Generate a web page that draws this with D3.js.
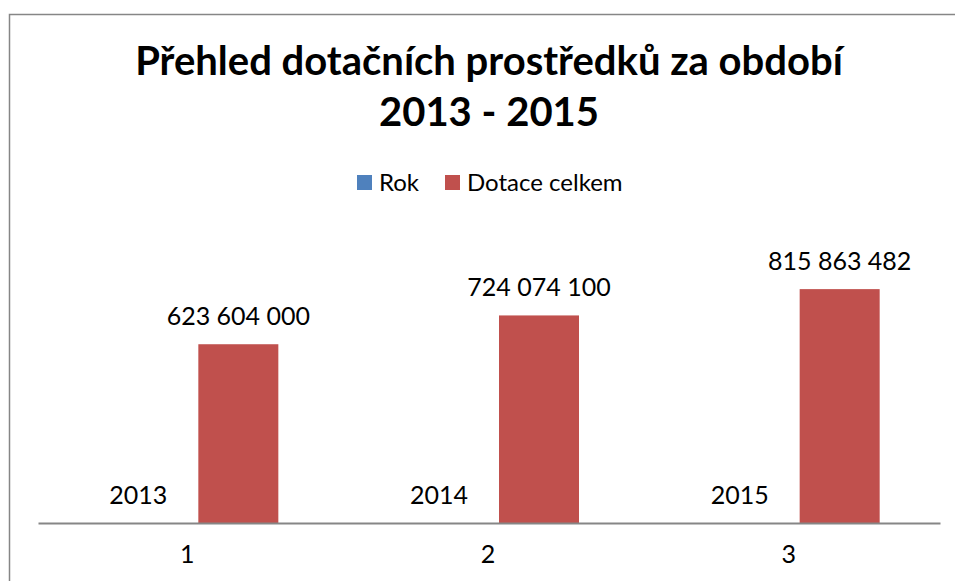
<!DOCTYPE html>
<html>
<head>
<meta charset="utf-8">
<script src="https://cdn.jsdelivr.net/npm/d3@7"></script>
<style>
  body { margin: 0; background: #fff; }
  svg text { font-family: Lato, "Open Sans", sans-serif; fill: #000; }
</style>
</head>
<body>
<div id="chart"></div>
<script>
// data
var categories = ["1", "2", "3"];
var seriesNames = ["Rok", "Dotace celkem"];
var rok = [2013, 2014, 2015];
var dotace = [623604000, 724074100, 815863482];
var colors = ["#4F81BD", "#C0504D"];

var width = 955, height = 581;

var svg = d3.select("#chart")
    .append("svg")
        .attr("width", width)
        .attr("height", height);

// chart border (runs off the right and bottom edges)
svg.append("rect")
    .attr("x", 9.5).attr("y", 14.5)
    .attr("width", 980).attr("height", 600)
    .attr("fill", "none")
    .attr("stroke", "#868686")
    .attr("stroke-width", 1.5);

// title
var title = svg.append("text")
    .attr("text-anchor", "middle")
    .style("font-weight", "bold")
    .style("font-size", "40px");
title.append("tspan").attr("x", 489).attr("y", 75).text("Přehled dotačních prostředků za období");
title.append("tspan").attr("x", 489).attr("y", 126).text("2013 - 2015");

// scales
var x = d3.scaleBand()
    .domain(categories)
    .range([38, 940]);

var y = d3.scaleLinear()
    .domain([0, 900000000])
    .range([523, 265]);

var spaced = d3.formatLocale({decimal: ",", thousands: " ", grouping: [3], currency: ["", ""]}).format(",d");
var formats = [d3.format("d"), spaced];

var barW = 80;
var offsets = [-50, 50];
var seriesData = [rok, dotace];

seriesData.forEach(function(values, s) {
    var g = svg.append("g");
    g.selectAll("rect")
        .data(values)
        .enter()
        .append("rect")
            .attr("x", function(d, i) { return x(categories[i]) + x.bandwidth() / 2 + offsets[s] - barW / 2; })
            .attr("y", function(d) { return y(d); })
            .attr("width", barW)
            .attr("height", function(d) { return y(0) - y(d); })
            .attr("fill", colors[s]);

    g.selectAll("text")
        .data(values)
        .enter()
        .append("text")
            .attr("x", function(d, i) { return x(categories[i]) + x.bandwidth() / 2 + offsets[s]; })
            .attr("y", function(d) { return y(d) - 19; })
            .attr("text-anchor", "middle")
            .style("font-size", "25px")
            .text(function(d) { return formats[s](d); });
});

// x axis
var xAxis = svg.append("g")
    .attr("transform", "translate(0,523)")
    .call(d3.axisBottom(x).tickSize(0).tickPadding(22));
xAxis.select(".domain")
    .attr("stroke", "#868686")
    .attr("stroke-width", 2);
xAxis.selectAll("text")
    .attr("dx", -1)
    .style("font-size", "25px")
    .style("font-family", "Lato, 'Open Sans', sans-serif")
    .attr("fill", "#000");

// legend
var legendX = [357, 445];
var legend = svg.append("g");
seriesNames.forEach(function(name, i) {
    legend.append("rect")
        .attr("x", legendX[i]).attr("y", 175)
        .attr("width", 15).attr("height", 15)
        .attr("fill", colors[i]);
    legend.append("text")
        .attr("x", legendX[i] + 22).attr("y", 191)
        .style("font-size", "24px")
        .text(name);
});
</script>
</body>
</html>
